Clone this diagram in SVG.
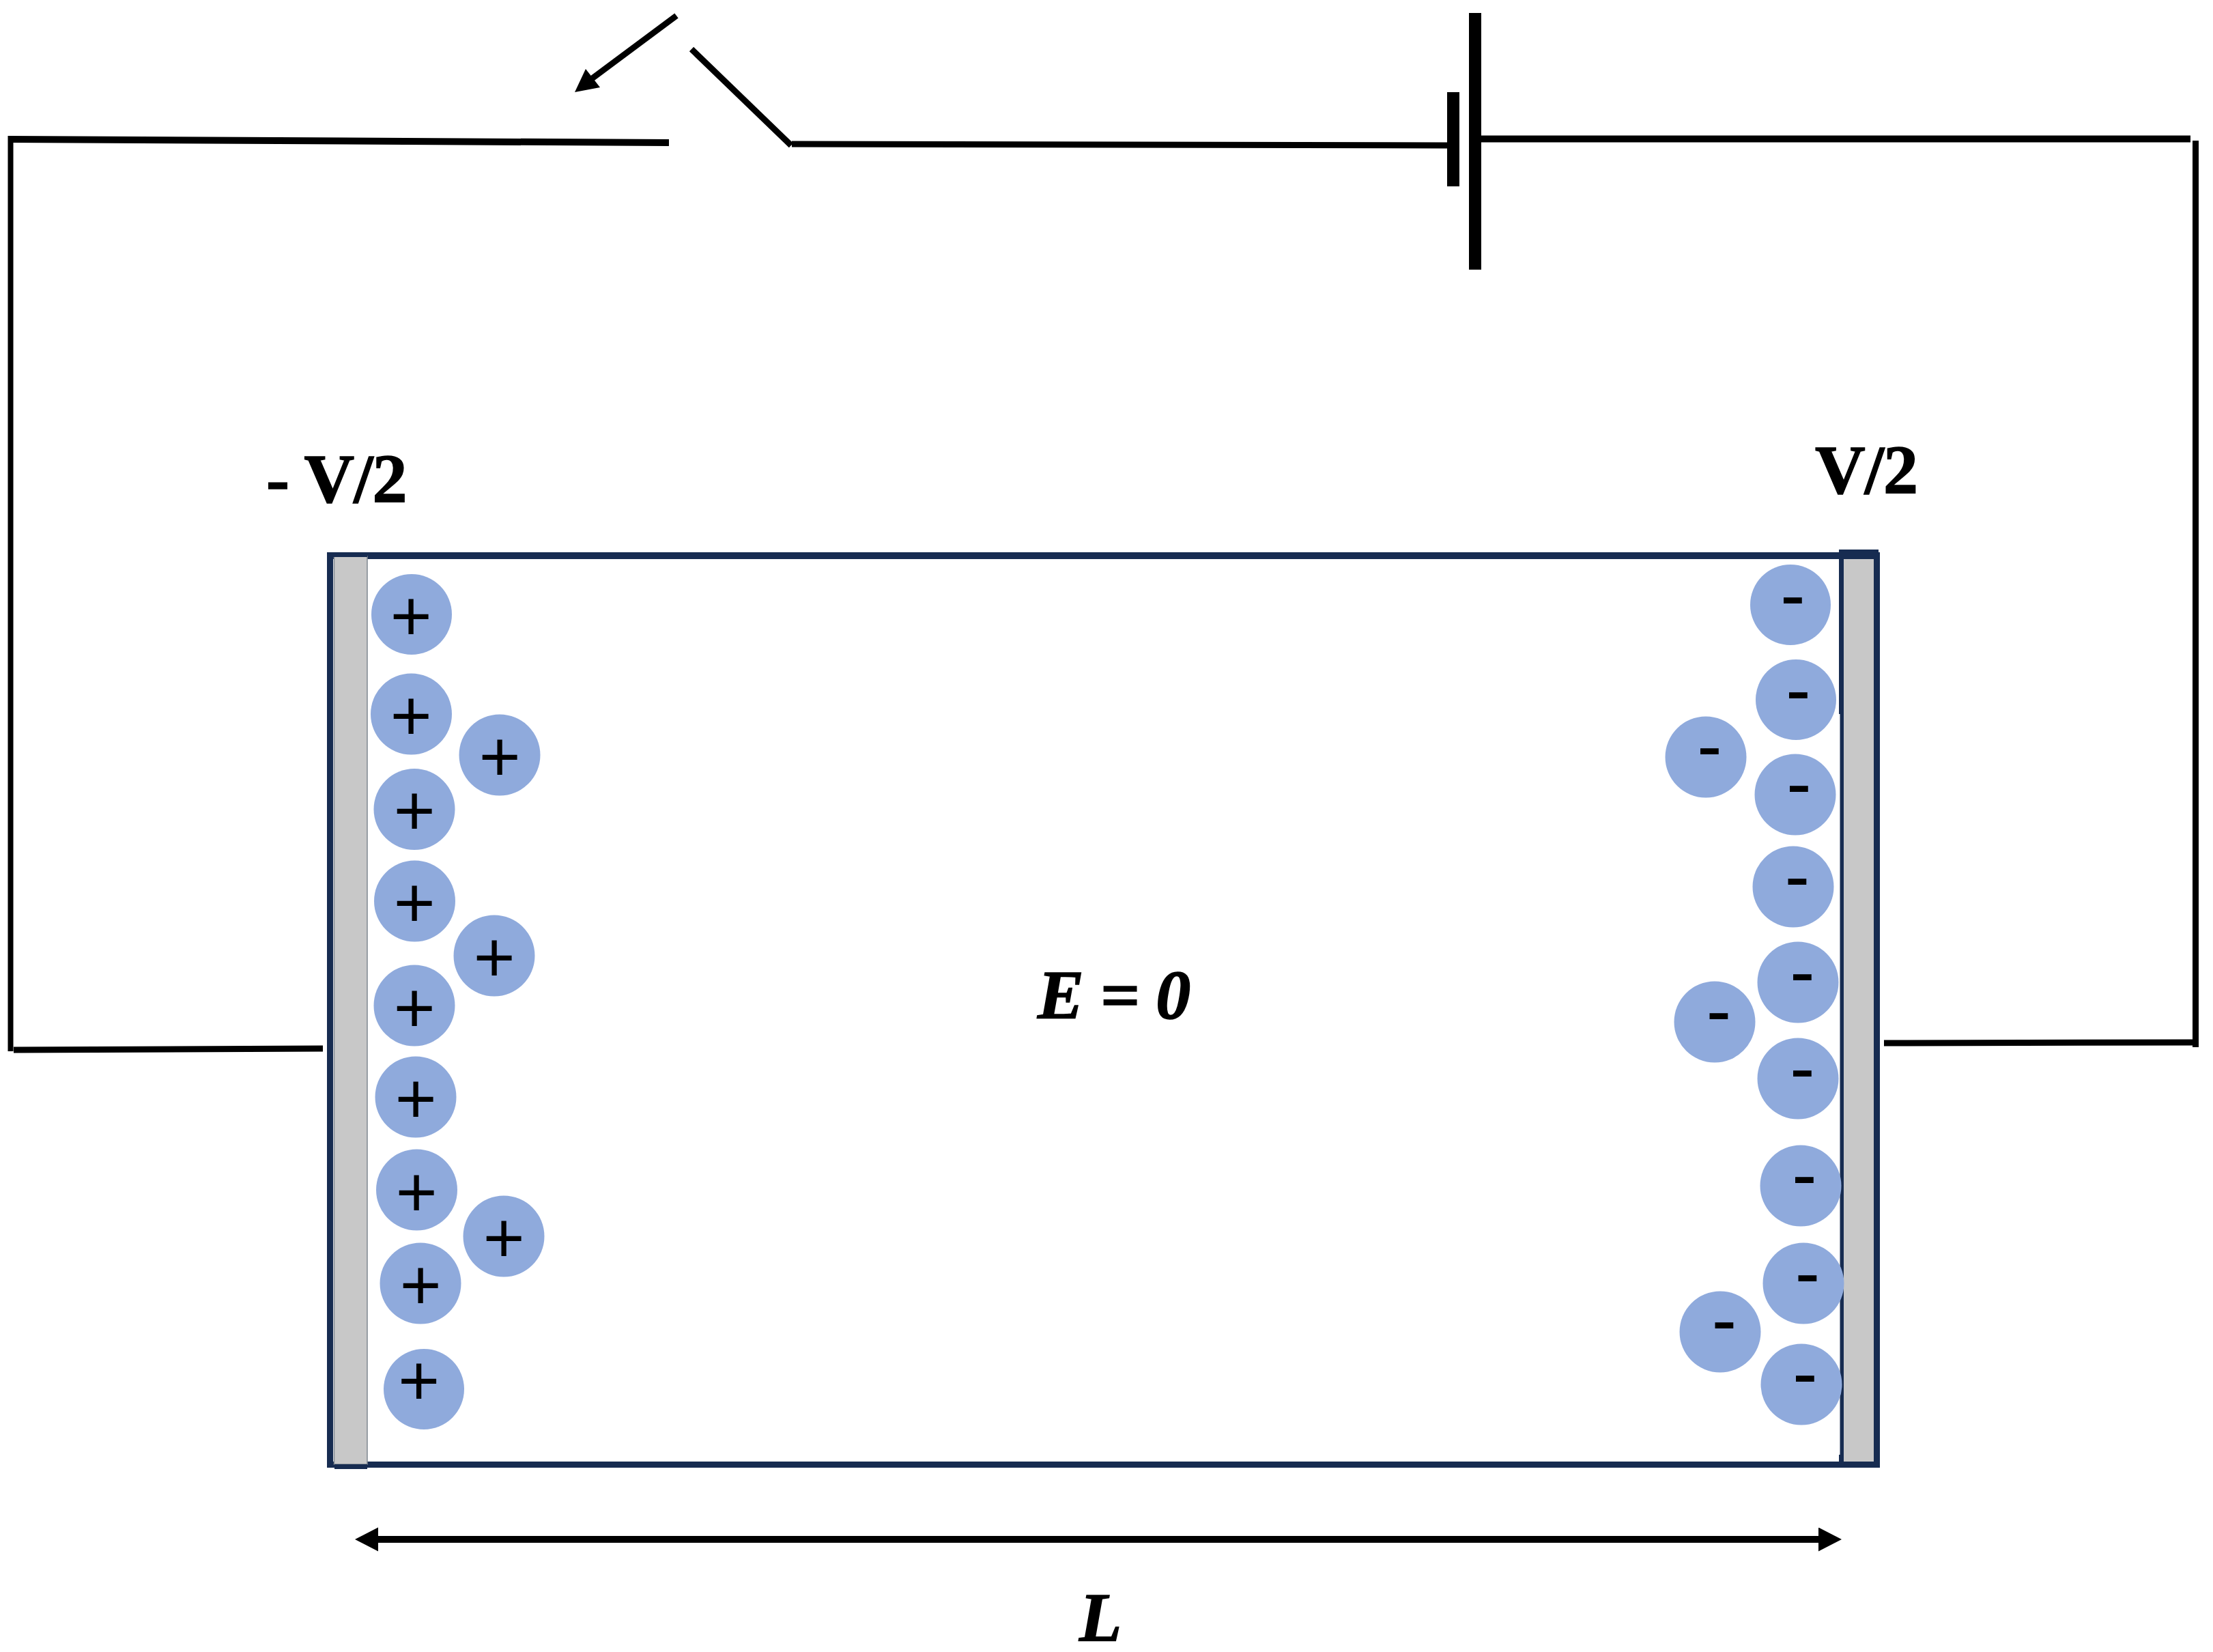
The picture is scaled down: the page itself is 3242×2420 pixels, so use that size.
<svg xmlns="http://www.w3.org/2000/svg" width="3242" height="2420" viewBox="0 0 3242 2420">
<style>
.wire{fill:none;stroke:#000;stroke-linecap:butt}
.w8{stroke-width:8}
.w9{stroke-width:9}
.w10{stroke-width:10}
.frame{fill:#172c51}
.plate{fill:#c8c8c8}
.ion{fill:#8faadc}
.label{font-family:"Liberation Serif","Times New Roman",serif;font-size:102px;font-weight:700;fill:#000;stroke:#000;stroke-width:1.500px;letter-spacing:-1px}
.it{font-style:italic}
.pos{font-family:"Liberation Serif","Times New Roman",serif;font-size:105px;fill:#000;stroke:#000;stroke-width:2px;text-anchor:middle}
.neg{font-family:"Liberation Serif","Times New Roman",serif;font-size:103px;font-weight:700;fill:#000;text-anchor:middle}
</style>
<defs>
<marker id="head" markerUnits="userSpaceOnUse" markerWidth="36" markerHeight="38" refX="0" refY="17.500" orient="auto-start-reverse"><path d="M0 0L34 17.500L0 35Z" fill="#000"/></marker>
</defs>
<rect width="3242" height="2420" fill="#fff"/>
<g id="connectors">
<path class="wire w10" d="M15 204L980 209"/>
<path class="wire w8" d="M15.500 199V1540"/>
<path class="wire w9" d="M1160 211L2121 213"/>
<path class="wire w10" d="M2170 203.500H3209"/>
<path class="wire w9" d="M3216.500 206V1534"/>
<path class="wire w9" d="M20 1538L473 1536"/>
<path class="wire w9" d="M2760 1528L3217 1527"/>
<path class="wire w9" d="M1013 72L1159 213"/>
<path class="wire w9" d="M991 23L866 116"/>
<path d="M842 135L858 101L879 128Z" fill="#000"/>
<path class="wire w10" d="M554 2255H2664" marker-start="url(#head)" marker-end="url(#head)"/>
</g>
<g id="battery">
<rect x="2120" y="135" width="18" height="138" fill="#000"/>
<rect x="2152" y="19" width="18" height="376" fill="#000"/>
</g>
<g id="cell">
<path class="frame" fill-rule="evenodd" d="M479 809H2754V2150H479ZM488 819V2141H2745V819Z"/>
</g>
<g id="left-electrode">
<rect class="plate" x="489.500" y="815" width="48.500" height="1330" stroke="#808890" stroke-width="1.500"/>
<rect class="frame" x="479" y="809" width="59" height="7"/>
<rect class="frame" x="490" y="2145" width="48" height="7"/>
</g>
<g id="right-electrode">
<rect class="plate" x="2701" y="819" width="44" height="1322"/>
<rect class="frame" x="2694" y="805" width="58" height="14"/>
<rect class="frame" x="2694" y="805" width="7" height="241"/>
<rect class="frame" x="2695.500" y="1046" width="5.500" height="1090"/>
<rect class="frame" x="2694" y="2131" width="7" height="12"/>
</g>
<g id="pos-1"><circle class="ion" cx="603" cy="900" r="59"/><text class="pos" x="602" y="939">+</text></g>
<g id="pos-2"><circle class="ion" cx="602.500" cy="1046" r="59.500"/><text class="pos" x="602" y="1085">+</text></g>
<g id="pos-3"><circle class="ion" cx="732" cy="1106" r="59.500"/><text class="pos" x="732" y="1145">+</text></g>
<g id="pos-4"><circle class="ion" cx="607" cy="1185.500" r="59.500"/><text class="pos" x="607" y="1224">+</text></g>
<g id="pos-5"><circle class="ion" cx="607.500" cy="1320" r="59.500"/><text class="pos" x="607" y="1359">+</text></g>
<g id="pos-6"><circle class="ion" cx="724" cy="1400" r="59.500"/><text class="pos" x="724" y="1439">+</text></g>
<g id="pos-7"><circle class="ion" cx="607" cy="1473" r="59.500"/><text class="pos" x="607" y="1513">+</text></g>
<g id="pos-8"><circle class="ion" cx="609" cy="1607" r="59.500"/><text class="pos" x="609" y="1646">+</text></g>
<g id="pos-9"><circle class="ion" cx="610.500" cy="1743" r="59.500"/><text class="pos" x="610" y="1783">+</text></g>
<g id="pos-10"><circle class="ion" cx="738" cy="1811" r="59.500"/><text class="pos" x="738" y="1850">+</text></g>
<g id="pos-11"><circle class="ion" cx="616" cy="1880" r="59.500"/><text class="pos" x="616" y="1919">+</text></g>
<g id="pos-12"><circle class="ion" cx="621" cy="2035" r="59"/><text class="pos" x="613.500" y="2059">+</text></g>
<g id="neg-1"><circle class="ion" cx="2623" cy="886" r="59"/><text class="neg" x="2626.500" y="904">-</text></g>
<g id="neg-2"><circle class="ion" cx="2631" cy="1025" r="59"/><text class="neg" x="2634.500" y="1043">-</text></g>
<g id="neg-3"><circle class="ion" cx="2499" cy="1109" r="59.500"/><text class="neg" x="2504.500" y="1125">-</text></g>
<g id="neg-4"><circle class="ion" cx="2630" cy="1164" r="59.500"/><text class="neg" x="2635.500" y="1180">-</text></g>
<g id="neg-5"><circle class="ion" cx="2627" cy="1299" r="59.500"/><text class="neg" x="2633" y="1316">-</text></g>
<g id="neg-6"><circle class="ion" cx="2634" cy="1439" r="59.500"/><text class="neg" x="2640.500" y="1456">-</text></g>
<g id="neg-7"><circle class="ion" cx="2512" cy="1497" r="59.500"/><text class="neg" x="2518" y="1513">-</text></g>
<g id="neg-8"><circle class="ion" cx="2634" cy="1580" r="59.500"/><text class="neg" x="2640.500" y="1597">-</text></g>
<g id="neg-9"><circle class="ion" cx="2638" cy="1737" r="59.500"/><text class="neg" x="2643.500" y="1753">-</text></g>
<g id="neg-10"><circle class="ion" cx="2642" cy="1880" r="59.500"/><text class="neg" x="2648" y="1897">-</text></g>
<g id="neg-11"><circle class="ion" cx="2520" cy="1951" r="59.500"/><text class="neg" x="2526" y="1966">-</text></g>
<g id="neg-12"><circle class="ion" cx="2639" cy="2028" r="59.500"/><text class="neg" x="2644.500" y="2044">-</text></g>
<g id="labels">
<text class="label" x="390" y="736">- V/2</text>
<text class="label" x="2659" y="723">V/2</text>
<text class="label it" x="1520" y="1492">E = 0</text>
<text class="label it" x="1581" y="2404">L</text>
</g>
</svg>
